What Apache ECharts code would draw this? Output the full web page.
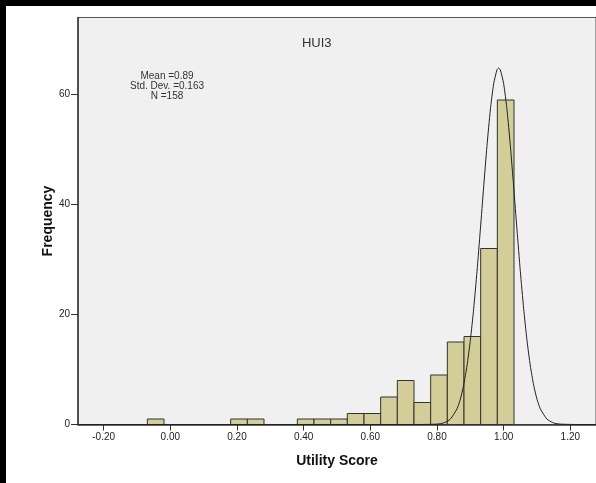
<!DOCTYPE html>
<html>
<head>
<meta charset="utf-8">
<script src="https://cdn.jsdelivr.net/npm/echarts@6/dist/echarts.min.js"></script>
<style>
html,body{margin:0;padding:0;background:#000;width:596px;height:483px;overflow:hidden;}
#chart{position:absolute;left:6px;top:6px;width:590px;height:477px;background:#fff;}
</style>
</head>
<body>
<div id="chart"></div>
<script>
// Histogram bins (bin centres) and frequencies
const binCenters = [-0.044, 0.206, 0.256, 0.406, 0.456, 0.506, 0.556, 0.606, 0.656, 0.706, 0.756, 0.806, 0.856, 0.906, 0.956, 1.006];
const frequencies = [1, 1, 1, 1, 1, 1, 2, 2, 5, 8, 4, 9, 15, 16, 32, 59];
const binWidth = 0.05;

// Fitted curve
const curveX = [-0.277, 0.70, 0.75, 0.80, 0.82, 0.84, 0.86, 0.87, 0.88, 0.89, 0.90, 0.91, 0.92, 0.93, 0.94, 0.95, 0.96, 0.97, 0.98, 0.985, 0.99, 1.00, 1.01, 1.02, 1.03, 1.04, 1.05, 1.06, 1.07, 1.08, 1.09, 1.10, 1.11, 1.13, 1.15, 1.17, 1.22, 1.277];
const curveY = [0, 0, 0.001, 0.07, 0.28, 0.97, 2.85, 4.6, 7.15, 10.66, 15.28, 21.04, 27.84, 35.39, 43.22, 50.72, 57.19, 61.95, 64.48, 64.8, 64.48, 61.95, 57.19, 50.72, 43.22, 35.39, 27.84, 21.04, 15.28, 10.66, 7.15, 4.6, 2.85, 0.97, 0.28, 0.07, 0.001, 0];

// Axis ticks
const xTicks = [-0.2, 0.0, 0.2, 0.4, 0.6, 0.8, 1.0, 1.2];
const yTicks = [0, 20, 40, 60];

const titleText = 'HUI3';
const statsLines = ['Mean =0.89', 'Std. Dev. =0.163', 'N =158'];

const chart = echarts.init(document.getElementById('chart'), null, {renderer: 'canvas'});
const font = '"Liberation Sans", Arial, sans-serif';

const option = {
  backgroundColor: '#fff',
  animation: false,
  grid: {
    left: 72, top: 11.5, right: -9.6, bottom: 58.5,
    show: true, backgroundColor: '#f0f0f0', borderColor: '#555', borderWidth: 1
  },
  xAxis: {
    type: 'value', min: -0.277, max: 1.277,
    name: 'Utility Score', nameLocation: 'middle', nameGap: 30, nameMoveOverlap: false,
    nameTextStyle: {fontFamily: font, fontSize: 14, fontWeight: 'bold', color: '#111'},
    axisLine: {show: true, onZero: false, lineStyle: {color: '#333', width: 1.5}},
    axisTick: {show: true, length: 6, customValues: xTicks, lineStyle: {color: '#333'}},
    axisLabel: {customValues: xTicks, margin: 8, fontFamily: font, fontSize: 10, color: '#222',
      formatter: v => v.toFixed(2)},
    splitLine: {show: false}
  },
  yAxis: {
    type: 'value', min: 0, max: 74,
    name: 'Frequency', nameLocation: 'middle', nameGap: 23, nameMoveOverlap: false,
    nameTextStyle: {fontFamily: font, fontSize: 14, fontWeight: 'bold', color: '#111'},
    axisLine: {show: true, onZero: false, lineStyle: {color: '#333', width: 1.5}},
    axisTick: {show: true, length: 7, customValues: yTicks, lineStyle: {color: '#333'}},
    axisLabel: {customValues: yTicks, margin: 8, fontFamily: font, fontSize: 10, color: '#222'},
    splitLine: {show: false}
  },
  graphic: [
    {type: 'text', x: 310.7, y: 37.3, z: 10,
      style: {text: titleText, fontFamily: font, fontSize: 13, fill: '#333', textAlign: 'center', textVerticalAlign: 'middle'}},
    {type: 'text', x: 161, y: 80, z: 10,
      style: {text: statsLines.join('\n'), fontFamily: font, fontSize: 10, lineHeight: 10, fill: '#333', textAlign: 'center', textVerticalAlign: 'middle'}}
  ],
  series: [
    {
      type: 'custom',
      data: binCenters.map((c, i) => [c, frequencies[i]]),
      z: 2,
      renderItem: function (params, api) {
        const c = api.value(0), n = api.value(1);
        const p0 = api.coord([c - binWidth / 2, n]);
        const p1 = api.coord([c + binWidth / 2, 0]);
        return {
          type: 'rect',
          shape: {x: p0[0], y: p0[1], width: p1[0] - p0[0], height: p1[1] - p0[1]},
          style: {fill: '#d3ce97', stroke: '#333', lineWidth: 1}
        };
      }
    },
    {
      type: 'line',
      data: curveX.map((x, i) => [x, curveY[i]]),
      showSymbol: false, symbol: 'none', smooth: 0.2, z: 5,
      lineStyle: {color: '#222', width: 1}
    }
  ]
};
chart.setOption(option);
</script>
</body>
</html>
